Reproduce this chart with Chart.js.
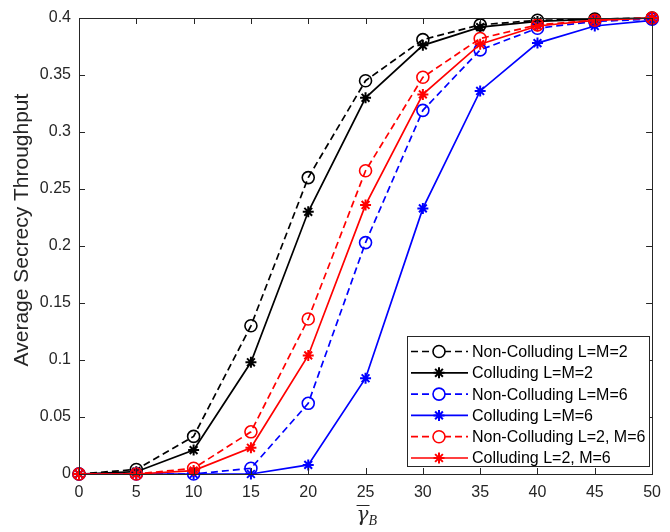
<!DOCTYPE html>
<html>
<head>
<meta charset="utf-8">
<script src="https://cdn.jsdelivr.net/npm/chart.js@4/dist/chart.umd.min.js"></script>
<style>
html,body{margin:0;padding:0;background:#fff;}
#wrap{width:670px;height:532px;position:relative;}
</style>
</head>
<body>
<div id="wrap"><canvas id="c" width="670" height="532"></canvas></div>
<script>
const snrDb = [0, 5, 10, 15, 20, 25, 30, 35, 40, 45, 50];
const nonCollL2M2 = [0, 0.004, 0.033, 0.130, 0.260, 0.345, 0.381, 0.394, 0.398, 0.399, 0.400];
const collL2M2    = [0, 0.002, 0.021, 0.098, 0.230, 0.330, 0.376, 0.392, 0.397, 0.399, 0.400];
const nonCollL6M6 = [0, 0.000, 0.000, 0.005, 0.062, 0.203, 0.319, 0.372, 0.391, 0.397, 0.399];
const collL6M6    = [0, 0.000, 0.000, 0.000, 0.008, 0.084, 0.233, 0.336, 0.378, 0.393, 0.398];
const nonCollL2M6 = [0, 0.000, 0.005, 0.037, 0.136, 0.266, 0.348, 0.382, 0.394, 0.398, 0.400];
const collL2M6    = [0, 0.000, 0.003, 0.023, 0.104, 0.236, 0.333, 0.377, 0.393, 0.398, 0.400];
const seriesLabels = ['Non-Colluding L=M=2','Colluding L=M=2','Non-Colluding L=M=6','Colluding L=M=6','Non-Colluding L=2, M=6','Colluding L=2, M=6'];
const xTicks = [0,5,10,15,20,25,30,35,40,45,50];
const yTicks = [0,0.05,0.1,0.15,0.2,0.25,0.3,0.35,0.4];
const yTitle = 'Average Secrecy Throughput';

const allSeries = [nonCollL2M2, collL2M2, nonCollL6M6, collL6M6, nonCollL2M6, collL2M6];
const colors = ['#000000','#000000','#0000ff','#0000ff','#ff0000','#ff0000'];
const FONT = '"Liberation Sans", Arial, Helvetica, sans-serif';
const AX = '#262626';

const datasets = allSeries.map((s, i) => {
  const dashed = i % 2 === 0;
  return {
    label: seriesLabels[i],
    data: s.map((v, k) => ({x: snrDb[k], y: v})),
    borderColor: colors[i],
    backgroundColor: 'rgba(0,0,0,0)',
    borderWidth: 1.7,
    borderDash: dashed ? [7,4] : [],
    pointStyle: dashed ? 'circle' : 'star',
    pointRadius: dashed ? 6 : 5.5,
    pointBorderWidth: dashed ? 1.6 : 2,
    pointBorderColor: colors[i],
    pointBackgroundColor: 'rgba(0,0,0,0)',
    tension: 0,
    clip: false,
    order: 5 - i
  };
});

const framePlugin = {
  id: 'frame',
  afterDraw(chart) {
    const {ctx, chartArea: a, scales} = chart;
    const xs = scales.x, ys = scales.y;
    ctx.save();
    ctx.strokeStyle = AX;
    ctx.lineWidth = 1;
    ctx.setLineDash([]);
    ctx.strokeRect(Math.round(a.left)+0.5, Math.round(a.top)+0.5, Math.round(a.right-a.left), Math.round(a.bottom-a.top));
    const tl = 6;
    ctx.beginPath();
    xTicks.forEach(t => {
      const px = Math.round(xs.getPixelForValue(t)) + 0.5;
      ctx.moveTo(px, a.bottom); ctx.lineTo(px, a.bottom - tl);
      ctx.moveTo(px, a.top); ctx.lineTo(px, a.top + tl);
    });
    yTicks.forEach(t => {
      const py = Math.round(ys.getPixelForValue(t)) + 0.5;
      ctx.moveTo(a.left, py); ctx.lineTo(a.left + tl, py);
      ctx.moveTo(a.right, py); ctx.lineTo(a.right - tl, py);
    });
    ctx.stroke();

    // y title
    ctx.fillStyle = '#262626';
    ctx.font = '21px ' + FONT;
    ctx.textAlign = 'center';
    ctx.textBaseline = 'middle';
    ctx.save();
    ctx.translate(22, 230);
    ctx.rotate(-Math.PI / 2);
    ctx.fillText(yTitle, 0, 0);
    ctx.restore();

    // x title: gamma bar sub B
    const cx = (a.left + a.right) / 2;
    ctx.font = 'italic 20px "DejaVu Serif", "Liberation Serif", serif';
    ctx.textAlign = 'left';
    ctx.textBaseline = 'alphabetic';
    const gw = ctx.measureText('γ').width;
    const gx = cx - 9;
    const gy = 521;
    ctx.fillText('γ', gx, gy);
    ctx.beginPath();
    ctx.lineWidth = 1;
    ctx.moveTo(gx, 505.5); ctx.lineTo(gx + gw + 1, 505.5);
    ctx.stroke();
    ctx.font = 'italic 14px "Liberation Serif", "DejaVu Serif", serif';
    ctx.fillText('B', gx + gw, gy + 4);

    // legend
    const lx = 407.5, ly = 336.5, lw = 242, lh = 130;
    ctx.fillStyle = '#ffffff';
    ctx.fillRect(lx, ly, lw, lh);
    ctx.strokeStyle = AX;
    ctx.lineWidth = 1;
    ctx.strokeRect(lx, ly, lw, lh);
    chart.data.datasets.forEach((ds, i) => {
      const y = ly + 15 + i * 21.3;
      ctx.strokeStyle = ds.borderColor;
      ctx.lineWidth = ds.borderWidth;
      ctx.setLineDash(ds.borderDash);
      ctx.beginPath();
      ctx.moveTo(411, y); ctx.lineTo(468, y);
      ctx.stroke();
      ctx.setLineDash([]);
      ctx.lineWidth = ds.pointBorderWidth;
      ctx.strokeStyle = ds.pointBorderColor;
      ctx.fillStyle = '#ffffff';
      Chart.helpers.drawPoint(ctx, {pointStyle: ds.pointStyle, radius: ds.pointRadius, rotation: 0, borderWidth: ds.pointBorderWidth}, 439, y);
      ctx.fillStyle = '#000';
      ctx.font = '16px ' + FONT;
      ctx.textAlign = 'left';
      ctx.textBaseline = 'middle';
      ctx.fillText(ds.label, 472, y + 1);
    });
    ctx.restore();
  }
};

new Chart(document.getElementById('c'), {
  type: 'line',
  data: {datasets},
  options: {
    responsive: false,
    animation: false,
    devicePixelRatio: 1,
    layout: {padding: {left: 0, right: 12, top: 18, bottom: 0}},
    plugins: {legend: {display: false}, tooltip: {enabled: false}},
    scales: {
      x: {
        type: 'linear', min: 0, max: 50,
        afterBuildTicks(s) { s.ticks = xTicks.map(v => ({value: v})); },
        afterFit(s) { s.height = 58; },
        grid: {display: false, drawTicks: false},
        border: {display: false},
        ticks: {color: '#262626', font: {family: FONT, size: 16}, padding: 9, maxRotation: 0, autoSkip: false}
      },
      y: {
        type: 'linear', min: 0, max: 0.4,
        afterBuildTicks(s) { s.ticks = yTicks.map(v => ({value: v})); },
        afterFit(s) { s.width = 79; },
        grid: {display: false, drawTicks: false},
        border: {display: false},
        ticks: {color: '#262626', font: {family: FONT, size: 16}, padding: 8, autoSkip: false,
          callback: v => String(Math.round(v * 100) / 100)}
      }
    }
  },
  plugins: [framePlugin]
});
</script>
</body>
</html>
